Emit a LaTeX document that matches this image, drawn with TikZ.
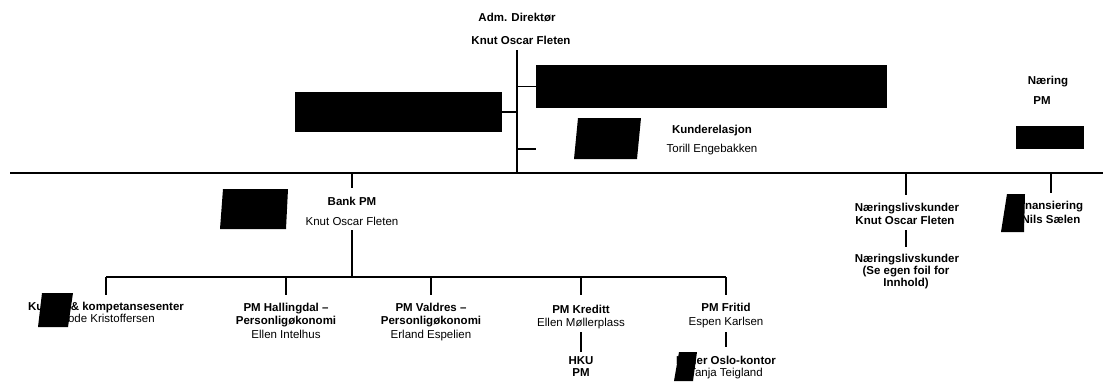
\documentclass[tikz,border=0pt]{standalone}
\usepackage{fontspec}
\setmainfont{Liberation Sans}
\begin{document}
\begin{tikzpicture}[x=1pt,y=-1pt,
  lbl/.style={inner sep=0pt, text height=8.2pt, text depth=0pt, font=\fontsize{11.5}{13}\selectfont},
  blbl/.style={lbl, font=\fontsize{11.5}{13}\selectfont\bfseries},
  ln/.style={draw=black, line width=1.2pt},
  redact/.style={fill=black, draw=none, inner sep=0pt}]
\useasboundingbox (0,0) rectangle (1103,381);
% ---------- texts ----------
\node[blbl] (adm) at (517,17) {Adm. Direktør};
\node[blbl] (admname) at (521,40) {Knut Oscar Fleten};
\node[blbl] (kund) at (712,129) {Kunderelasjon};
\node[lbl] (kundname) at (712,148) {Torill Engebakken};
\node[blbl] (naer) at (1048,80) {Næring};
\node[blbl] (naerpm) at (1042,100) {PM};
\node[blbl] (bank) at (352,201) {Bank PM};
\node[lbl] (bankname) at (352,221) {Knut Oscar Fleten};
\node[blbl] (c1) at (106,306) {Kunde- \& kompetansesenter};
\node[lbl] (c1name) at (106,318) {Frode Kristoffersen};
\node[blbl] (c2) at (286,307) {PM Hallingdal –};
\node[blbl] (c2b) at (286,320) {Personligøkonomi};
\node[lbl] (c2name) at (286,334) {Ellen Intelhus};
\node[blbl] (c3) at (431,307) {PM Valdres –};
\node[blbl] (c3b) at (431,320) {Personligøkonomi};
\node[lbl] (c3name) at (431,334) {Erland Espelien};
\node[blbl] (c4) at (581,309) {PM Kreditt};
\node[lbl] (c4name) at (581,322) {Ellen Møllerplass};
\node[blbl] (hku) at (581,360) {HKU};
\node[blbl] (hkupm) at (581,372) {PM};
\node[blbl] (c5) at (726,307) {PM Fritid};
\node[lbl] (c5name) at (726,321) {Espen Karlsen};
\node[blbl] (oslo) at (726,360) {Leder Oslo-kontor};
\node[lbl] (osloname) at (726,372) {Tanja Teigland};
\node[blbl] (nl) at (907,207) {Næringslivskunder};
\node[blbl] (nlname) at (905,220) {Knut Oscar Fleten};
\node[blbl] (nl2) at (907,258) {Næringslivskunder};
\node[blbl] (nl2b) at (906,270) {(Se egen foil for};
\node[blbl] (nl2c) at (906,282) {Innhold)};
\node[blbl] (fin) at (1049,205) {Finansiering};
\node[blbl] (finname) at (1051,219) {Nils Sælen};
% ---------- redaction boxes ----------
\node[redact, minimum width=207pt, minimum height=40pt] (boxA) at (398.5,112) {};
\node[redact, minimum width=351pt, minimum height=43pt] (boxB) at (711.5,86.5) {};
\node[redact, minimum width=68pt, minimum height=23pt] (boxD) at (1050,137.5) {};
\fill[black] (578,118) -- (641,118) -- (637,159) -- (574,159) -- cycle;
\fill[black] (223,189) -- (288,189) -- (286,229) -- (220,229) -- cycle;
\fill[black] (42,293) -- (73,293) -- (68,327) -- (38,327) -- cycle;
\fill[black] (679,352) -- (697,352) -- (693,381) -- (674,381) -- cycle;
\fill[black] (1007,194) -- (1025,194) -- (1024,232) -- (1001,232) -- cycle;
% ---------- coordinates ----------
\coordinate (ceoTop) at (517,50);
\coordinate (ceoBot) at (517,173);
\coordinate (kEnd) at (536,149);
\coordinate (mainL) at (10,173);
\coordinate (mainR) at (1103,173);
\coordinate (bankJ) at (352,173);
\coordinate (bankT) at (352,188);
\coordinate (bankB) at (352,230);
\coordinate (brJ) at (352,277);
\coordinate (brL) at (106,277);
\coordinate (brR) at (726,277);
\coordinate (nlJ) at (906,173);
\coordinate (nlT) at (906,195);
\coordinate (finJ) at (1051,173);
\coordinate (finT) at (1051,193);
% ---------- connectors ----------
\draw[ln] (ceoTop) -- (ceoBot);
\draw[ln] (boxA.east) -- (boxA.east -| ceoTop);
\draw[ln] (boxB.west) -- (boxB.west -| ceoTop);
\draw[ln] (kEnd -| ceoTop) -- (kEnd);
\draw[ln] (mainL) -- (mainR);
\draw[ln] (bankJ) -- (bankT);
\draw[ln] (bankB) -- (brJ);
\draw[ln] (brL) -- (brR);
\foreach \cx in {106,286,431,581,726}
  \draw[ln] (\cx,277) -- (\cx,295);
\draw[ln] (581,332) -- (581,352);
\draw[ln] (726,332) -- (726,347);
\draw[ln] (nlJ) -- (nlT);
\draw[ln] (906,230) -- (906,247);
\draw[ln] (finJ) -- (finT);
\end{tikzpicture}
\end{document}
